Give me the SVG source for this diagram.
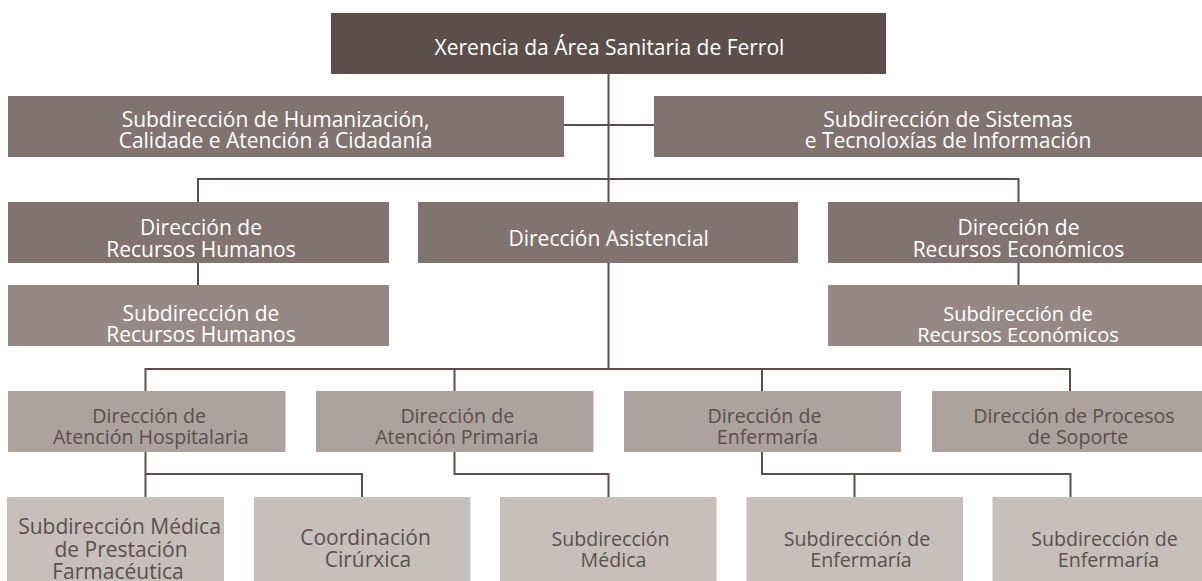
<svg xmlns="http://www.w3.org/2000/svg" width="1202" height="581" viewBox="0 0 1202 581">
<style>
  .c1{fill:#5c4f4b}
  .c2{fill:#817470}
  .c3{fill:#968985}
  .c4{fill:#aca29f}
  .c5{fill:#c7bfbc}
  text{font-family:"Open Sans","Noto Sans","Liberation Sans",sans-serif;font-size:21px;text-anchor:middle}
  .w{fill:#ffffff}
  .d{fill:#5c4f4b}
  .s{font-size:19.6px}
  .ln{fill:none;stroke:#5c4f4b;stroke-width:2}
</style>
<rect width="1202" height="581" fill="#ffffff"/>
<g id="connectors" class="ln">
  <path d="M608.5 74 V369"/>
  <path d="M564 125 H654"/>
  <path d="M198 202 V179 H1018.5 V202"/>
  <path d="M198 263 V285"/>
  <path d="M1018.5 263 V285"/>
  <path d="M145.5 391 V369 H1070 V391"/>
  <path d="M454.5 369 V391"/>
  <path d="M762 369 V391"/>
  <path d="M145.5 452 V497"/>
  <path d="M145.5 474 H362 V497"/>
  <path d="M454.5 452 V474 H608.5 V497"/>
  <path d="M762 452 V474 H1070.5 V497"/>
  <path d="M854.5 474 V497"/>
</g>
<g id="xerencia"><rect class="c1" x="331" y="13" width="555" height="61"/><text class="w" x="609.5" y="55">Xerencia da Área Sanitaria de Ferrol</text></g>
<g id="sub-humanizacion"><rect class="c2" x="8" y="96" width="556" height="61"/><text class="w" x="275.5" y="126.7">Subdirección de Humanización,</text><text class="w" x="275.5" y="148.3">Calidade e Atención á Cidadanía</text></g>
<g id="sub-sistemas"><rect class="c2" x="654" y="96" width="556" height="61"/><text class="w" x="948" y="126.7">Subdirección de Sistemas</text><text class="w" x="948" y="148.3">e Tecnoloxías de Información</text></g>
<g id="dir-rrhh"><rect class="c2" x="8" y="202" width="381" height="61"/><text class="w" x="201" y="235">Dirección de</text><text class="w" x="201" y="256.7">Recursos Humanos</text></g>
<g id="dir-asistencial"><rect class="c2" x="418" y="202" width="380" height="61"/><text class="w" x="608.7" y="246">Dirección Asistencial</text></g>
<g id="dir-economicos"><rect class="c2" x="828" y="202" width="381" height="61"/><text class="w" x="1018.5" y="235">Dirección de</text><text class="w" x="1018.5" y="256.7">Recursos Económicos</text></g>
<g id="sub-rrhh"><rect class="c3" x="8" y="285" width="381" height="61"/><text class="w" x="201" y="320.7">Subdirección de</text><text class="w" x="201" y="341.7">Recursos Humanos</text></g>
<g id="sub-economicos"><rect class="c3" x="828" y="285" width="381" height="61"/><text class="w" x="1018" y="320.7" style="font-size:20px">Subdirección de</text><text class="w" x="1018" y="341.7" style="font-size:20px">Recursos Económicos</text></g>
<g id="dir-hospitalaria"><rect class="c4" x="8" y="391" width="277.5" height="61"/><text class="d s" x="149.2" y="422.8">Dirección de</text><text class="d s" x="150.8" y="444">Atención Hospitalaria</text></g>
<g id="dir-primaria"><rect class="c4" x="316" y="391" width="277.5" height="61"/><text class="d s" x="457.3" y="422.8">Dirección de</text><text class="d s" x="456.8" y="444">Atención Primaria</text></g>
<g id="dir-enfermaria"><rect class="c4" x="624" y="391" width="277" height="61"/><text class="d s" x="764.5" y="422.8">Dirección de</text><text class="d s" x="767.5" y="444">Enfermaría</text></g>
<g id="dir-procesos"><rect class="c4" x="932" y="391" width="277" height="61"/><text class="d s" x="1074" y="422.8">Dirección de Procesos</text><text class="d s" x="1078" y="444">de Soporte</text></g>
<g id="sub-farmaceutica"><rect class="c5" x="7" y="497" width="217" height="90"/><text class="d" x="119.5" y="534.3">Subdirección Médica</text><text class="d" x="121" y="556.7">de Prestación</text><text class="d" x="118" y="579.3">Farmacéutica</text></g>
<g id="coord-cirurxica"><rect class="c5" x="254" y="497" width="216.5" height="90"/><text class="d" x="365.5" y="545">Coordinación</text><text class="d" x="368" y="566.7">Cirúrxica</text></g>
<g id="sub-medica"><rect class="c5" x="500" y="497" width="216.5" height="90"/><text class="d s" x="610.5" y="545.5">Subdirección</text><text class="d s" x="613.5" y="566.7">Médica</text></g>
<g id="sub-enfermaria-1"><rect class="c5" x="746.5" y="497" width="216.5" height="90"/><text class="d s" x="857" y="545.5">Subdirección de</text><text class="d s" x="861" y="566.7">Enfermaría</text></g>
<g id="sub-enfermaria-2"><rect class="c5" x="992.5" y="497" width="216.5" height="90"/><text class="d s" x="1104.5" y="545.5">Subdirección de</text><text class="d s" x="1108.5" y="566.7">Enfermaría</text></g>
</svg>
